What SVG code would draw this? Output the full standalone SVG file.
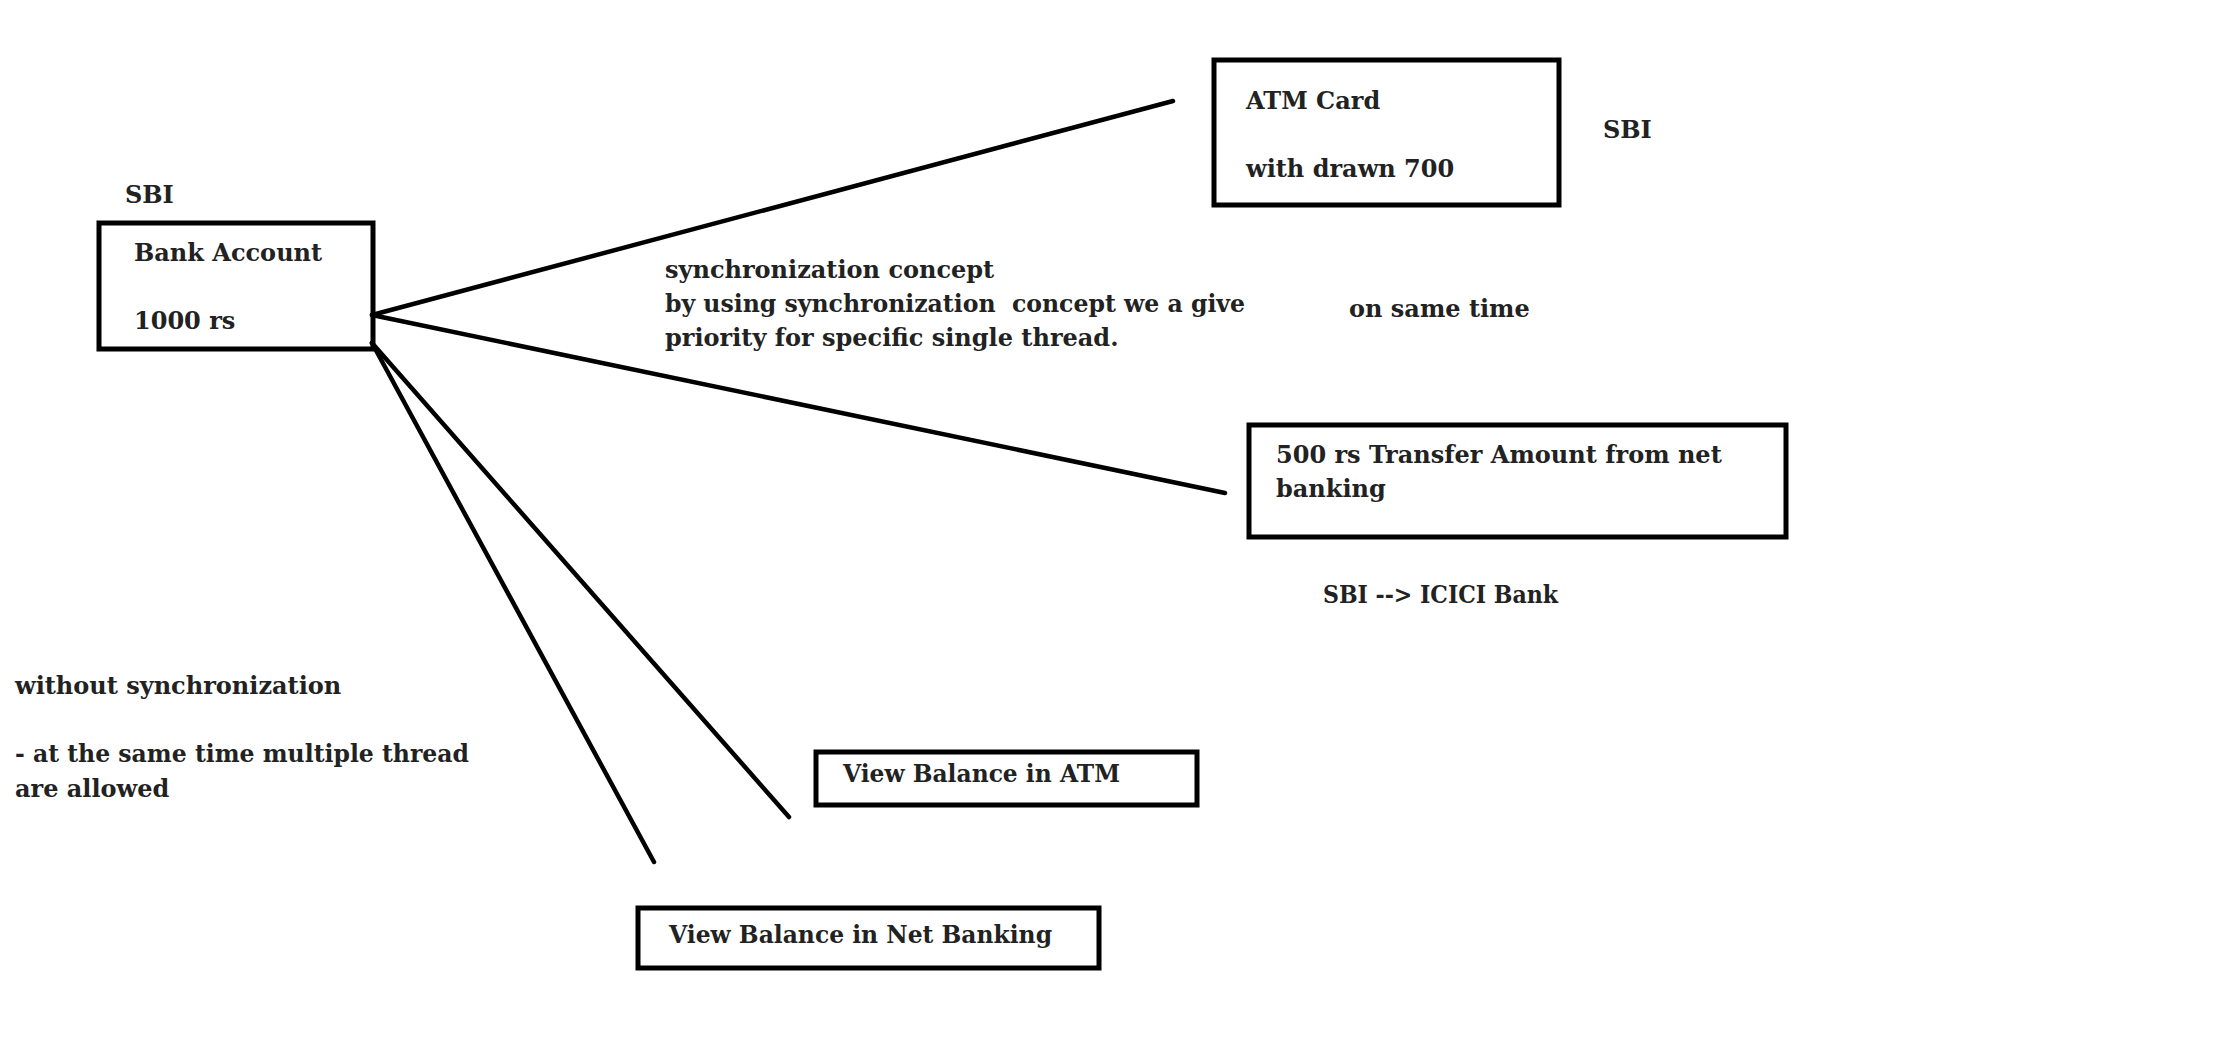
<svg xmlns="http://www.w3.org/2000/svg" width="2218" height="1051" viewBox="0 0 2218 1051">
<style>
.box{fill:none;stroke:#000;stroke-width:5}
.t{font-family:"DejaVu Serif","Liberation Serif",serif;font-weight:bold;font-size:24px;fill:#222}
.c{stroke:#000;stroke-width:4.5;stroke-linecap:round;fill:none}
</style>
<rect width="2218" height="1051" fill="#fff"/>
<g id="connectors">
<line class="c" x1="372" y1="315" x2="1173" y2="101"/>
<line class="c" x1="372" y1="315" x2="1225" y2="493"/>
<line class="c" x1="372" y1="343" x2="789" y2="817"/>
<line class="c" x1="372" y1="343" x2="654" y2="862"/>
</g>
<g id="bank-account">
<text class="t" x="125" y="203">SBI</text>
<rect class="box" x="99" y="223" width="274" height="126"/>
<text class="t" x="134" y="261">Bank Account</text>
<text class="t" x="134" y="329">1000 rs</text>
</g>
<g id="atm-card">
<rect class="box" x="1214" y="60" width="345" height="145"/>
<text class="t" x="1246" y="109">ATM Card</text>
<text class="t" x="1246" y="177">with drawn 700</text>
<text class="t" x="1603" y="138">SBI</text>
</g>
<g id="sync-note">
<text class="t" x="665" y="278">synchronization concept</text>
<text class="t" x="665" y="312" xml:space="preserve" textLength="580" lengthAdjust="spacingAndGlyphs">by using synchronization  concept we a give</text>
<text class="t" x="665" y="346">priority for specific single thread.</text>
<text class="t" x="1349" y="317">on same time</text>
</g>
<g id="transfer">
<rect class="box" x="1249" y="425" width="537" height="112"/>
<text class="t" x="1276" y="463">500 rs Transfer Amount from net</text>
<text class="t" x="1276" y="497">banking</text>
<text class="t" x="1323" y="603" textLength="235" lengthAdjust="spacingAndGlyphs">SBI --&gt; ICICI Bank</text>
</g>
<g id="without-sync-note">
<text class="t" x="15" y="694">without synchronization</text>
<text class="t" x="15" y="762" textLength="454" lengthAdjust="spacingAndGlyphs">- at the same time multiple thread</text>
<text class="t" x="15" y="797">are allowed</text>
</g>
<g id="view-atm">
<rect class="box" x="816" y="752" width="381" height="53"/>
<text class="t" x="843" y="782" textLength="277" lengthAdjust="spacingAndGlyphs">View Balance in ATM</text>
</g>
<g id="view-netbanking">
<rect class="box" x="638" y="908" width="461" height="60"/>
<text class="t" x="669" y="943" textLength="383" lengthAdjust="spacingAndGlyphs">View Balance in Net Banking</text>
</g>
</svg>
